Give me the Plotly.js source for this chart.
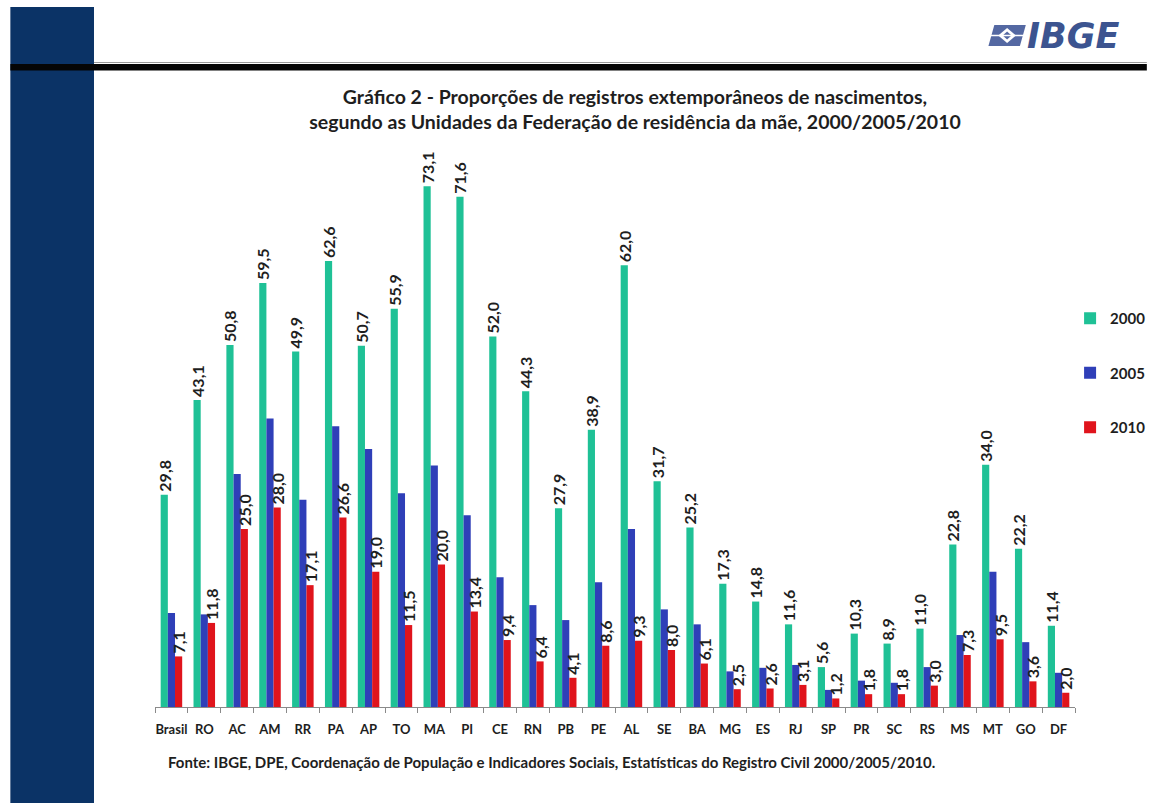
<!DOCTYPE html>
<html>
<head>
<meta charset="utf-8">
<script src="https://cdn.plot.ly/plotly-3.0.1.min.js"></script>
<style>html,body{margin:0;padding:0;background:#fff;}#chart{width:1163px;height:803px;}</style>
</head>
<body>
<div id="chart"></div>
<script>
const categories = ["Brasil","RO","AC","AM","RR","PA","AP","TO","MA","PI","CE","RN","PB","PE","AL","SE","BA","MG","ES","RJ","SP","PR","SC","RS","MS","MT","GO","DF"];
const values2000 = [29.8,43.1,50.8,59.5,49.9,62.6,50.7,55.9,73.1,71.6,52.0,44.3,27.9,38.9,62.0,31.7,25.2,17.3,14.8,11.6,5.6,10.3,8.9,11.0,22.8,34.0,22.2,11.4];
const values2005 = [13.2,13.0,32.7,40.5,29.1,39.4,36.2,30.0,33.9,26.9,18.2,14.3,12.2,17.5,25.0,13.7,11.6,5.0,5.5,5.9,2.4,3.7,3.4,5.6,10.1,19.0,9.1,4.8];
const values2010 = [7.1,11.8,25.0,28.0,17.1,26.6,19.0,11.5,20.0,13.4,9.4,6.4,4.1,8.6,9.3,8.0,6.1,2.5,2.6,3.1,1.2,1.8,1.8,3.0,7.3,9.5,3.6,2.0];
const seriesNames = ["2000","2005","2010"];

const titleText = "Gráfico 2 - Proporções de registros extemporâneos de nascimentos,<br>segundo as Unidades da Federação de residência da mãe, 2000/2005/2010";
const sourceText = "Fonte: IBGE, DPE, Coordenação de População e Indicadores Sociais, Estatísticas do Registro Civil 2000/2005/2010.";

const W = 1163, H = 803;
const M = {l:155, r:73, t:137, b:96};
const PW = W - M.l - M.r, PH = H - M.t - M.b;
const xp = px => (px - M.l) / PW;
const yp = py => (H - M.b - py) / PH;

const fmt = v => v.toFixed(1).replace('.', ',');
const colors = ["#1fc196", "#2f3fb8", "#e0141c"];
const labelFont = {family:"Lato, 'Open Sans', sans-serif", size:16, color:"#1e1e1e", weight:700};

function barTrace(name, vals, color, showText, grp){
  const t = {
    type:"bar", name:name, x:categories, y:vals,
    marker:{color:color, line:{width:0}},
    legendgroup:grp,
    hoverinfo:"x+y+name",
    cliponaxis:false
  };
  if (showText){
    t.text = vals.map(fmt);
    t.textposition = "outside";
    t.textangle = -90;
    t.constraintext = "none";
    t.textfont = labelFont;
  } else {
    t.textposition = "none";
  }
  return t;
}

const data = [
  barTrace(seriesNames[0], values2000, colors[0], true, "a"),
  barTrace(seriesNames[1], values2005, colors[1], false, "b"),
  barTrace(seriesNames[2], values2010, colors[2], true, "c")
];

function pathPx(pts){
  return pts.map((p,i)=> (i===0?'M':'L') + xp(p[0]).toFixed(5) + ',' + yp(p[1]).toFixed(5)).join(' ') + ' Z';
}

const shapes = [
  {type:"rect", xref:"paper", yref:"paper", x0:xp(8), x1:xp(93), y0:yp(803), y1:yp(7), fillcolor:"#0b3366", line:{width:0}, layer:"below"},
  {type:"rect", xref:"paper", yref:"paper", x0:xp(8), x1:xp(1163), y0:yp(70.5), y1:yp(64), fillcolor:"#050505", line:{width:0}},
  {type:"line", xref:"paper", yref:"paper", x0:xp(93), x1:xp(1163), y0:yp(62.5), y1:yp(62.5), line:{color:"#9a9a9a", width:1}},
  {type:"path", xref:"paper", yref:"paper", path:pathPx([[1008,25],[1040,25],[1034,46],[1002,46]]), fillcolor:"#5468a2", line:{width:0}},
  {type:"path", xref:"paper", yref:"paper", path:pathPx([[1021,28],[1030,35.5],[1021,43],[1012,35.5]]), fillcolor:"#ffffff", line:{width:0}},
  {type:"path", xref:"paper", yref:"paper", path:pathPx([[1021,31.5],[1025.5,35.5],[1021,39.5],[1016.5,35.5]]), fillcolor:"#5468a2", line:{width:0}},
  {type:"line", xref:"paper", yref:"paper", x0:xp(1004), x1:xp(1038), y0:yp(35.5), y1:yp(35.5), line:{color:"#ffffff", width:1.5}}
];

const annotations = [
  {xref:"paper", yref:"paper", x:xp(1039), y:yp(36), xanchor:"left", yanchor:"middle", showarrow:false,
   text:"<i>IBGE</i>", font:{family:"'DejaVu Sans', sans-serif", size:35, color:"#3c5490", weight:700, style:"italic"}},
  {xref:"paper", yref:"paper", x:xp(166), y:yp(762), xanchor:"left", yanchor:"middle", showarrow:false,
   text:sourceText, font:{family:"Lato, sans-serif", size:15, color:"#1e1e1e", weight:700}}
];

const layout = {
  width:W, height:H,
  margin:M,
  paper_bgcolor:"#ffffff", plot_bgcolor:"#ffffff",
  font:{family:"Lato, sans-serif", color:"#1e1e1e"},
  title:{text:titleText, xref:"container", yref:"container", x:635/W, xanchor:"center", y:1-104/H, yanchor:"top",
         font:{family:"Lato, sans-serif", size:19.5, color:"#1e1e1e", weight:700}},
  barmode:"group", bargap:0.345, bargroupgap:0,
  xaxis:{type:"category", tickson:"boundaries", ticks:"outside", ticklen:5, tickcolor:"#8a8a8a", tickwidth:1,
         showline:true, linecolor:"#8a8a8a", linewidth:1, showgrid:false, zeroline:false, tickangle:0,
         tickfont:{family:"Lato, sans-serif", size:13, color:"#1e1e1e", weight:700}, ticklabelstandoff:10,
         fixedrange:true},
  yaxis:{range:[0,80], visible:false, showgrid:false, zeroline:false, fixedrange:true},
  showlegend:true,
  legend:{x:xp(1085), xanchor:"left", y:yp(302), yanchor:"top", traceorder:"grouped", tracegroupgap:32,
          font:{family:"Lato, sans-serif", size:15, color:"#1e1e1e", weight:700}, bgcolor:"rgba(0,0,0,0)", itemwidth:30},
  shapes:shapes,
  annotations:annotations
};

Plotly.newPlot("chart", data, layout, {displayModeBar:false, staticPlot:true});
</script>
</body>
</html>
